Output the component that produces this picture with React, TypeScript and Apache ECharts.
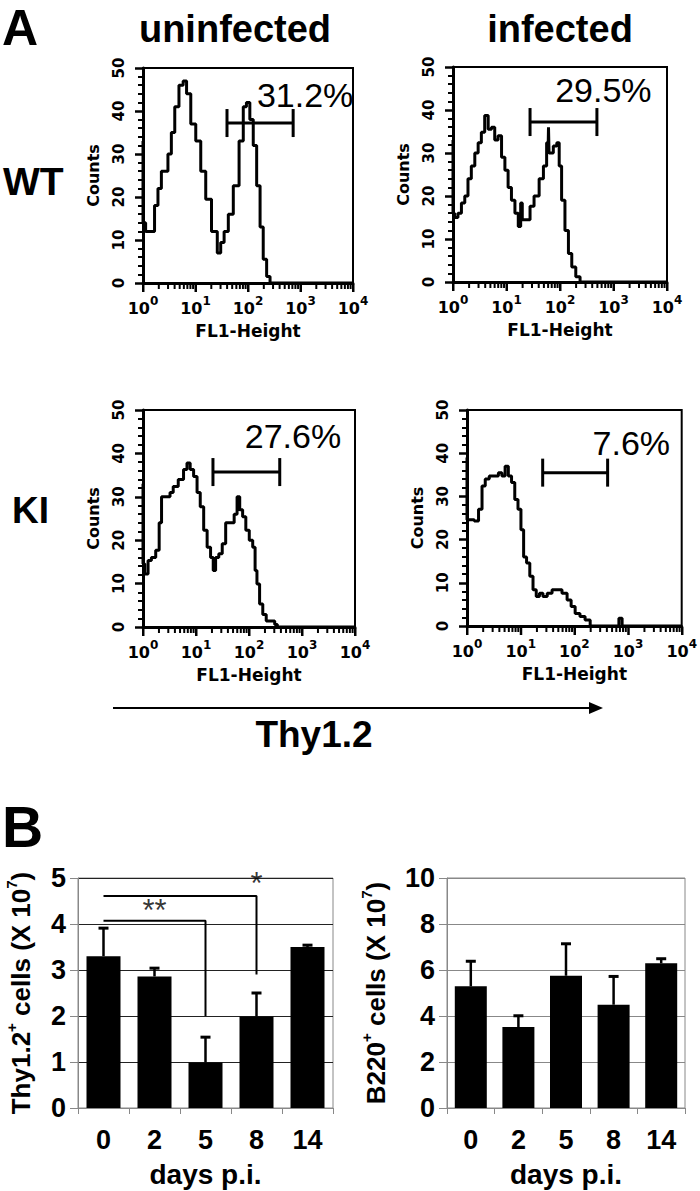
import React, { useEffect, useRef } from "react";
import * as echarts from "echarts";

// ---------- DATA ----------
// Histograms: [log10(FL1-Height), counts]
const H_WT_UNINF = [[0,33],[0,14],[0.1,12],[0.19,12],[0.25,18],[0.32,22],[0.38,26],[0.44,26],[0.51,30],[0.57,35],[0.64,41],[0.73,46],[0.8,47],[0.86,44],[0.96,37],[1.05,33],[1.15,26],[1.24,19.5],[1.37,12],[1.46,7],[1.5,9.4],[1.59,12],[1.66,16],[1.78,22.6],[1.88,33],[1.94,41],[2.0,42],[2.07,38],[2.13,32],[2.2,22.6],[2.26,13],[2.32,5.5],[2.39,1.5],[2.45,0],[4,0]];
const H_WT_INF = [[0,33],[0,16],[0.06,15],[0.125,16],[0.19,18.4],[0.25,20],[0.31,24],[0.375,27],[0.44,30],[0.5,32.4],[0.56,34.8],[0.625,38.7],[0.69,35.5],[0.75,36],[0.81,33],[0.875,34],[0.94,29],[1.0,26],[1.06,22],[1.125,19],[1.19,16],[1.25,12.9],[1.28,18.4],[1.31,14.5],[1.41,14.5],[1.47,17.6],[1.56,20],[1.66,24],[1.72,27],[1.78,32.4],[1.79,36],[1.8,30],[1.84,30],[1.91,31.6],[1.97,32.4],[2.0,27],[2.06,19],[2.125,12],[2.19,6.6],[2.25,3.5],[2.34,1.2],[2.41,0],[4,0]];
const H_KI_UNINF = [[0,33],[0,14.6],[0.064,12.2],[0.127,15.3],[0.19,16],[0.29,17.7],[0.32,24],[0.38,30],[0.48,30],[0.54,31],[0.6,32.4],[0.73,34],[0.8,36.3],[0.86,37.8],[0.92,36.3],[0.99,34.7],[1.05,31],[1.11,27.7],[1.18,22.3],[1.24,18.4],[1.31,16],[1.34,13],[1.4,16],[1.46,16.9],[1.53,19.2],[1.59,24],[1.69,24],[1.75,26],[1.8,30],[1.85,27],[1.91,25.4],[1.97,22.3],[2.04,20],[2.1,18.4],[2.13,13],[2.17,9.9],[2.23,5.3],[2.29,2.9],[2.36,1.4],[2.45,1.4],[2.52,0.6],[2.55,0],[4,0]];
const H_KI_INF = [[0,39],[0,24.6],[0.09,24.6],[0.18,24.3],[0.25,27],[0.31,32.4],[0.37,34],[0.46,34.7],[0.55,34.7],[0.62,35.5],[0.68,34.7],[0.74,37],[0.8,34.7],[0.86,33.2],[0.92,29.3],[0.98,27],[1.03,22.3],[1.08,16],[1.14,14.6],[1.2,11.5],[1.26,8.4],[1.32,6.8],[1.38,7.6],[1.45,6.8],[1.54,7.6],[1.63,8.4],[1.72,8.4],[1.82,7.6],[1.91,6],[1.97,4.5],[2.06,2.9],[2.15,2.2],[2.25,1.4],[2.34,0],[2.8,0],[2.86,1.8],[2.92,0],[4,0]];

// Gates: [x start (log), x end (log), counts level]
const GATE_WT_UNINF = [1.6, 2.86, 37.2];
const GATE_WT_INF = [1.44, 2.69, 37.2];
const GATE_KI_UNINF = [1.32, 2.58, 35.7];
const GATE_KI_INF = [1.41, 2.62, 35.5];
// Gate percentage labels: [text, x (log), counts]
const PCT_WT_UNINF = ["31.2%", 2.17, 43.7];
const PCT_WT_INF = ["29.5%", 1.91, 44.7];
const PCT_KI_UNINF = ["27.6%", 1.92, 44];
const PCT_KI_INF = ["7.6%", 2.34, 42.4];

const DECADES = [0, 1, 2, 3, 4];
const MINOR_MULT = [2, 3, 4, 5, 6, 7, 8, 9];

// Bar charts
const DAYS = ["0", "2", "5", "8", "14"];
const THY = [3.3, 2.86, 0.99, 1.99, 3.5];
const THY_ERR = [3.91, 3.04, 1.54, 2.5, 3.54];
const B220 = [5.29, 3.52, 5.75, 4.49, 6.29];
const B220_ERR = [6.38, 4.01, 7.14, 5.72, 6.49];
const BRACKET_STAR2 = [[0, 4.07], [2, 4.07], [2, 2.0]];
const BRACKET_STAR1 = [[0, 4.61], [3, 4.61], [3, 2.9]];
const STAR2_POS = [1.24, 4.3];
const STAR1_POS = [2.5, 4.88];

const FH = '"DejaVu Sans", sans-serif';
const FA = '"Liberation Sans", Arial, sans-serif';

const HIST_GRIDS = [
  { left: 143, top: 68, width: 210, height: 215 },
  { left: 453, top: 67, width: 214, height: 215 },
  { left: 143, top: 410, width: 212, height: 217 },
  { left: 467, top: 410, width: 215, height: 216 },
];

const T = (text: string, x: number, y: number, size: number, align = "left", weight = "bold") => ({
  type: "text",
  x,
  y,
  style: { text, fill: "#000", font: `${weight} ${size}px ${FA}`, textAlign: align, textVerticalAlign: "middle" },
});

function buildOption() {
  const hists = [H_WT_UNINF, H_WT_INF, H_KI_UNINF, H_KI_INF];
  const gates = [GATE_WT_UNINF, GATE_WT_INF, GATE_KI_UNINF, GATE_KI_INF];
  const pcts = [PCT_WT_UNINF, PCT_WT_INF, PCT_KI_UNINF, PCT_KI_INF];
  const majorTicks = DECADES.map((d) => [d, 8]);
  const minorTicks: number[][] = [];
  DECADES.slice(0, 4).forEach((d) => MINOR_MULT.forEach((m) => minorTicks.push([d + Math.log10(m), 5])));

  const grid: any[] = HIST_GRIDS.map((g) => ({
    ...g,
    show: true,
    borderColor: "#000",
    borderWidth: 2,
    backgroundColor: "transparent",
  }));
  grid.push({ left: 78, top: 878, width: 255, height: 230, show: true, borderColor: "#888", borderWidth: 1 });
  grid.push({ left: 447, top: 878, width: 238, height: 230, show: true, borderColor: "#888", borderWidth: 1 });
  // thin strips just below each histogram axis, holding the log-scale tick marks
  HIST_GRIDS.forEach((g) => grid.push({ left: g.left, width: g.width, top: g.top + g.height + 1, height: 8 }));

  const xAxis: any[] = [];
  const yAxis: any[] = [];
  const series: any[] = [];

  HIST_GRIDS.forEach((_, i) => {
    xAxis.push({
      gridIndex: i,
      type: "value",
      min: 0,
      max: 4,
      interval: 1,
      axisLine: { show: true, onZero: false, lineStyle: { color: "#000", width: 3 } },
      axisTick: { show: false },
      splitLine: { show: false },
      axisLabel: {
        margin: 12,
        color: "#000",
        formatter: (v: number) => `{b|10}{s|${v}}`,
        rich: {
          b: { fontFamily: FH, fontWeight: "bold", fontSize: 16, color: "#000", verticalAlign: "bottom", lineHeight: 21 },
          s: { fontFamily: FH, fontWeight: "bold", fontSize: 12, color: "#000", verticalAlign: "top", lineHeight: 21 },
        },
      },
      name: "FL1-Height",
      nameLocation: "middle",
      nameGap: 39,
      nameTextStyle: { fontFamily: FH, fontWeight: "bold", fontSize: 17, color: "#000" },
    });
    yAxis.push({
      gridIndex: i,
      type: "value",
      min: 0,
      max: 50,
      interval: 10,
      axisLine: { show: true, lineStyle: { color: "#000", width: 3 } },
      axisTick: { show: true, length: 8, lineStyle: { color: "#000", width: 2.5 } },
      minorTick: { show: true, splitNumber: 5, length: 5, lineStyle: { color: "#000", width: 2 } },
      splitLine: { show: false },
      axisLabel: { rotate: 90, margin: 17, color: "#000", fontFamily: FH, fontWeight: "bold", fontSize: 15 },
      name: "Counts",
      nameLocation: "middle",
      nameRotate: 90,
      nameGap: 42,
      nameTextStyle: { fontFamily: FH, fontWeight: "bold", fontSize: 16, color: "#000" },
    });
    series.push({
      type: "line",
      xAxisIndex: i,
      yAxisIndex: i,
      data: hists[i],
      step: "middle",
      symbol: "none",
      lineStyle: { color: "#000", width: 3 },
      z: 3,
    });
    const pct = pcts[i];
    series.push({
      type: "custom",
      xAxisIndex: i,
      yAxisIndex: i,
      data: [[gates[i][0], gates[i][1], gates[i][2], pct[1], pct[2]]],
      renderItem: (params: any, api: any) => {
        const a = api.coord([api.value(0), api.value(2)]);
        const b = api.coord([api.value(1), api.value(2)]);
        const t = api.coord([api.value(3), api.value(4)]);
        const st = { stroke: "#000", lineWidth: 3 };
        return {
          type: "group",
          children: [
            { type: "line", shape: { x1: a[0], y1: a[1], x2: b[0], y2: b[1] }, style: st },
            { type: "line", shape: { x1: a[0], y1: a[1] - 14, x2: a[0], y2: a[1] + 14 }, style: st },
            { type: "line", shape: { x1: b[0], y1: b[1] - 14, x2: b[0], y2: b[1] + 14 }, style: st },
            {
              type: "text",
              style: {
                text: pct[0],
                x: t[0],
                y: t[1],
                fill: "#000",
                font: `normal 34px ${FA}`,
                textAlign: "left",
                textVerticalAlign: "middle",
              },
            },
          ],
        };
      },
      clip: false,
      z: 5,
    });
  });

  const barDefs = [
    { gi: 4, vals: THY, errs: THY_ERR, max: 5, interval: 1, grid: "#222", name: "{a|Thy1.2}{s|+}{a| cells (X 10}{s|7}{a|)}", gap: 44, bw: 34 },
    { gi: 5, vals: B220, errs: B220_ERR, max: 10, interval: 2, grid: "#888", name: "{a|B220}{s|+}{a| cells (X 10}{s|7}{a|)}", gap: 58, bw: 32 },
  ];
  barDefs.forEach((d) => {
    xAxis.push({
      gridIndex: d.gi,
      type: "category",
      data: DAYS,
      axisLine: { show: true, lineStyle: { color: "#888", width: 1 } },
      axisTick: { show: true, length: 6, lineStyle: { color: "#888" } },
      axisLabel: { margin: 18, color: "#000", fontFamily: FA, fontWeight: "bold", fontSize: 27 },
      name: "days p.i.",
      nameLocation: "middle",
      nameGap: 52,
      nameTextStyle: { fontFamily: FA, fontWeight: "bold", fontSize: 28, color: "#000" },
    });
    yAxis.push({
      gridIndex: d.gi,
      type: "value",
      min: 0,
      max: d.max,
      interval: d.interval,
      axisLine: { show: true, lineStyle: { color: "#888", width: 1 } },
      axisTick: { show: true, length: 8, lineStyle: { color: "#888" } },
      splitLine: { show: true, lineStyle: { color: d.grid, width: 1.2 } },
      axisLabel: { margin: 12, color: "#000", fontFamily: FA, fontWeight: "bold", fontSize: 27 },
      name: d.name,
      nameLocation: "middle",
      nameRotate: 90,
      nameGap: d.gap,
      nameTextStyle: {
        rich: {
          a: { fontFamily: FA, fontWeight: "bold", fontSize: 26, color: "#000", lineHeight: 30, verticalAlign: "bottom" },
          s: { fontFamily: FA, fontWeight: "bold", fontSize: 15, color: "#000", lineHeight: 30, verticalAlign: "top" },
        },
      },
    });
    series.push({
      type: "bar",
      xAxisIndex: d.gi,
      yAxisIndex: d.gi,
      data: d.vals,
      barWidth: d.bw,
      itemStyle: { color: "#000" },
      z: 3,
    });
    series.push({
      type: "custom",
      xAxisIndex: d.gi,
      yAxisIndex: d.gi,
      data: DAYS.map((_, i) => [i, d.vals[i], d.errs[i]]),
      renderItem: (params: any, api: any) => {
        const p0 = api.coord([api.value(0), api.value(1)]);
        const p1 = api.coord([api.value(0), api.value(2)]);
        return {
          type: "group",
          children: [
            { type: "line", shape: { x1: p0[0], y1: p0[1], x2: p1[0], y2: p1[1] }, style: { stroke: "#000", lineWidth: 2.5 } },
            { type: "line", shape: { x1: p1[0] - 5, y1: p1[1], x2: p1[0] + 5, y2: p1[1] }, style: { stroke: "#000", lineWidth: 3 } },
          ],
        };
      },
      z: 4,
    });
  });

  // significance brackets on Thy1.2 chart
  [BRACKET_STAR2, BRACKET_STAR1].forEach((br) => {
    series.push({
      type: "line",
      xAxisIndex: 4,
      yAxisIndex: 4,
      data: br,
      symbol: "none",
      lineStyle: { color: "#000", width: 2 },
      z: 5,
    });
  });
  series.push({
    type: "scatter",
    xAxisIndex: 4,
    yAxisIndex: 4,
    data: [
      { value: STAR2_POS, label: { formatter: "**" } },
      { value: STAR1_POS, label: { formatter: "*" } },
    ],
    symbolSize: 0,
    label: { show: true, position: "inside", color: "#000", fontFamily: FA, fontSize: 31, fontWeight: "normal" },
    z: 6,
  });

  // tick strips (grids 6..9): hanging bars mark the log ticks
  HIST_GRIDS.forEach((_, i) => {
    const gi = 6 + i;
    xAxis.push({ gridIndex: gi, type: "value", min: 0, max: 4, show: false });
    yAxis.push({ gridIndex: gi, type: "value", min: 0, max: 8, inverse: true, show: false });
    series.push({
      type: "bar",
      xAxisIndex: gi,
      yAxisIndex: gi,
      data: majorTicks,
      barWidth: 2.5,
      barGap: "-100%",
      itemStyle: { color: "#000" },
      silent: true,
    });
    series.push({
      type: "bar",
      xAxisIndex: gi,
      yAxisIndex: gi,
      data: minorTicks,
      barWidth: 2,
      barGap: "-100%",
      itemStyle: { color: "#000" },
      silent: true,
    });
  });

  const graphic = [
    T("A", 2, 28, 50),
    T("uninfected", 235, 29, 38, "center"),
    T("infected", 560, 29, 38, "center"),
    T("WT", 3, 181, 39),
    T("KI", 12, 510, 37),
    T("B", 2, 827, 57),
    T("Thy1.2", 314, 734, 37, "center"),
    { type: "line", shape: { x1: 113, y1: 708, x2: 592, y2: 708 }, style: { stroke: "#000", lineWidth: 2 } },
    { type: "polygon", shape: { points: [[589, 702], [603, 708], [589, 714]] }, style: { fill: "#000" } },
  ];

  return { animation: false, backgroundColor: "#fff", grid, xAxis, yAxis, series, graphic };
}

export default function App() {
  const ref = useRef<HTMLDivElement>(null);
  useEffect(() => {
    document.body.style.margin = "0";
    const chart = echarts.init(ref.current!, undefined, { renderer: "svg" });
    chart.setOption(buildOption() as any);
    return () => chart.dispose();
  }, []);
  return <div ref={ref} style={{ width: 700, height: 1191 }} />;
}
